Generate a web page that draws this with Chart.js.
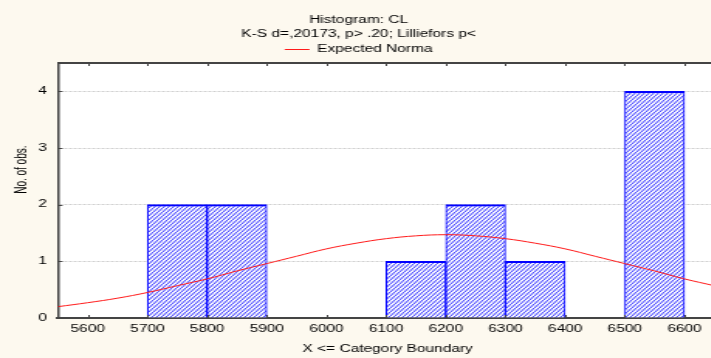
<!DOCTYPE html>
<html>
<head>
<meta charset="utf-8">
<script src="https://cdn.jsdelivr.net/npm/chart.js@4.4.1/dist/chart.umd.min.js"></script>
<style>
  html, body { margin: 0; padding: 0; background: #fdf9ef; overflow: hidden; }
  #wrap { width: 711px; height: 358px; overflow: hidden; }
  /* the reference is a horizontally stretched screenshot, so the canvas is stretched too */
  #myChart { display: block; transform: scaleX(1.5485); transform-origin: 0 0; }
</style>
</head>
<body>
<div id="wrap"><canvas id="myChart" width="474" height="358"></canvas></div>
<script>
// histogram bins (centre of each 100-wide class) and counts
const binCenters = [5750, 5850, 6150, 6250, 6350, 6550];
const binCounts = [2, 2, 1, 2, 1, 4];

// expected normal curve
const curveX = [5550, 5600, 5650, 5700, 5750, 5800, 5850, 5900, 5950, 6000, 6050, 6100,
  6150, 6200, 6250, 6300, 6350, 6400, 6450, 6500, 6550, 6600, 6650];
const curveY = [0.2, 0.27, 0.35, 0.45, 0.57, 0.69, 0.83, 0.96, 1.09, 1.22, 1.32, 1.4,
  1.45, 1.47, 1.45, 1.4, 1.32, 1.22, 1.09, 0.96, 0.83, 0.69, 0.57];

// tick labels
const xTicks = [5600, 5700, 5800, 5900, 6000, 6100, 6200, 6300, 6400, 6500, 6600];
const yTicks = [0, 1, 2, 3, 4];

Chart.defaults.font.family = "'Liberation Sans', Arial, sans-serif";
Chart.defaults.font.size = 10;
Chart.defaults.color = "#000";

const canvas = document.getElementById("myChart");

// hatch fill for the bars
const tile = document.createElement("canvas");
tile.width = 3;
tile.height = 4;
const tctx = tile.getContext("2d");
tctx.fillStyle = "#f4f4ff";
tctx.fillRect(0, 0, 3, 4);
tctx.strokeStyle = "#3a3aff";
tctx.lineWidth = 1;
for (let k = -1; k <= 1; k++) {
  tctx.beginPath();
  tctx.moveTo(0, 4 + 4 * k);
  tctx.lineTo(3, 4 * k);
  tctx.stroke();
}
const hatch = canvas.getContext("2d").createPattern(tile, "repeat");

const bgColor = {
  id: "bgColor",
  beforeDraw: (chart) => {
    const { ctx, width, height, chartArea } = chart;
    ctx.save();
    ctx.fillStyle = "#fdf9ef";
    ctx.fillRect(0, 0, width, height);
    ctx.fillStyle = "#fff";
    ctx.fillRect(chartArea.left, chartArea.top,
      chartArea.right - chartArea.left, chartArea.bottom - chartArea.top);
    ctx.restore();
  },
};

// top frame line and the small inward tick marks
const frame = {
  id: "frame",
  afterDraw: (chart) => {
    const { ctx, chartArea, scales } = chart;
    ctx.save();
    ctx.strokeStyle = "#444";
    ctx.lineWidth = 2;
    ctx.beginPath();
    ctx.moveTo(chartArea.left, chartArea.top);
    ctx.lineTo(chartArea.right, chartArea.top);
    ctx.stroke();
    ctx.lineWidth = 1;
    ctx.beginPath();
    scales.x.ticks.forEach((t) => {
      const px = Math.round(scales.x.getPixelForValue(t.value)) + 0.5;
      ctx.moveTo(px, chartArea.top);
      ctx.lineTo(px, chartArea.top + 3);
      ctx.moveTo(px, chartArea.bottom);
      ctx.lineTo(px, chartArea.bottom - 3);
    });
    scales.y.ticks.forEach((t) => {
      const py = Math.round(scales.y.getPixelForValue(t.value)) + 0.5;
      ctx.moveTo(chartArea.left, py);
      ctx.lineTo(chartArea.left + 3, py);
    });
    ctx.stroke();
    ctx.restore();
  },
};

new Chart(canvas, {
  type: "bar",
  data: {
    datasets: [
      {
        type: "line",
        label: "Expected Norma",
        data: curveX.map((x, i) => ({ x: x, y: curveY[i] })),
        borderColor: "#ff1a1a",
        backgroundColor: "#ff1a1a",
        borderWidth: 1,
        pointRadius: 0,
        tension: 0.4,
        order: 0,
      },
      {
        type: "bar",
        label: "CL",
        data: binCenters.map((x, i) => ({ x: x, y: binCounts[i] })),
        backgroundColor: hatch,
        borderColor: "#0000ff",
        borderWidth: { top: 2, left: 1, right: 1, bottom: 0 },
        borderSkipped: false,
        barPercentage: 1,
        categoryPercentage: 1,
        order: 1,
      },
    ],
  },
  options: {
    responsive: false,
    animation: false,
    devicePixelRatio: 1,
    events: [],
    layout: { padding: { left: 0, right: 10.8, top: 0, bottom: 0 } },
    plugins: {
      title: {
        display: true,
        text: "Histogram: CL",
        color: "#000",
        font: { size: 10, weight: "normal" },
        padding: { top: 14, bottom: 0 },
      },
      subtitle: {
        display: true,
        text: "K-S d=,20173, p> .20; Lilliefors p<",
        color: "#000",
        font: { size: 10 },
        padding: { top: 2, bottom: 0 },
      },
      legend: {
        display: true,
        maxHeight: 23,
        labels: {
          usePointStyle: true,
          pointStyle: "line",
          pointStyleWidth: 16,
          padding: 4.5,
          color: "#000",
          font: { size: 10 },
          filter: (item) => item.datasetIndex === 0,
        },
      },
      tooltip: { enabled: false },
    },
    scales: {
      x: {
        type: "linear",
        min: 5550,
        max: 6655,
        offset: false,
        afterBuildTicks: (axis) => {
          axis.ticks = xTicks.map((v) => ({ value: v }));
        },
        afterFit: (axis) => {
          axis.height = 40;
        },
        ticks: {
          padding: 5,
          maxRotation: 0,
          autoSkip: false,
          font: { size: 10 },
          callback: (value) => String(value),
        },
        grid: { display: false, drawTicks: false, offset: false },
        border: { display: true, color: "#444", width: 2 },
        title: {
          display: true,
          text: "X <= Category Boundary",
          font: { size: 10 },
          padding: { top: 0, bottom: 2.5 },
        },
      },
      y: {
        min: 0,
        max: 4.5,
        afterBuildTicks: (axis) => {
          axis.ticks = yTicks.map((v) => ({ value: v }));
        },
        afterFit: (axis) => {
          axis.width = 37.4;
        },
        ticks: { padding: 7, font: { size: 10 }, callback: (value) => String(value) },
        grid: { drawTicks: false, color: "#cfcfcf" },
        border: { display: true, color: "#444", width: 1.5, dash: [2, 1] },
        title: {
          display: true,
          // leading spaces lift the label up the axis as in the reference
          text: "               No. of obs.",
          font: { size: 10 },
          padding: { top: 8, bottom: 0 },
        },
      },
    },
  },
  plugins: [bgColor, frame],
});
</script>
</body>
</html>
